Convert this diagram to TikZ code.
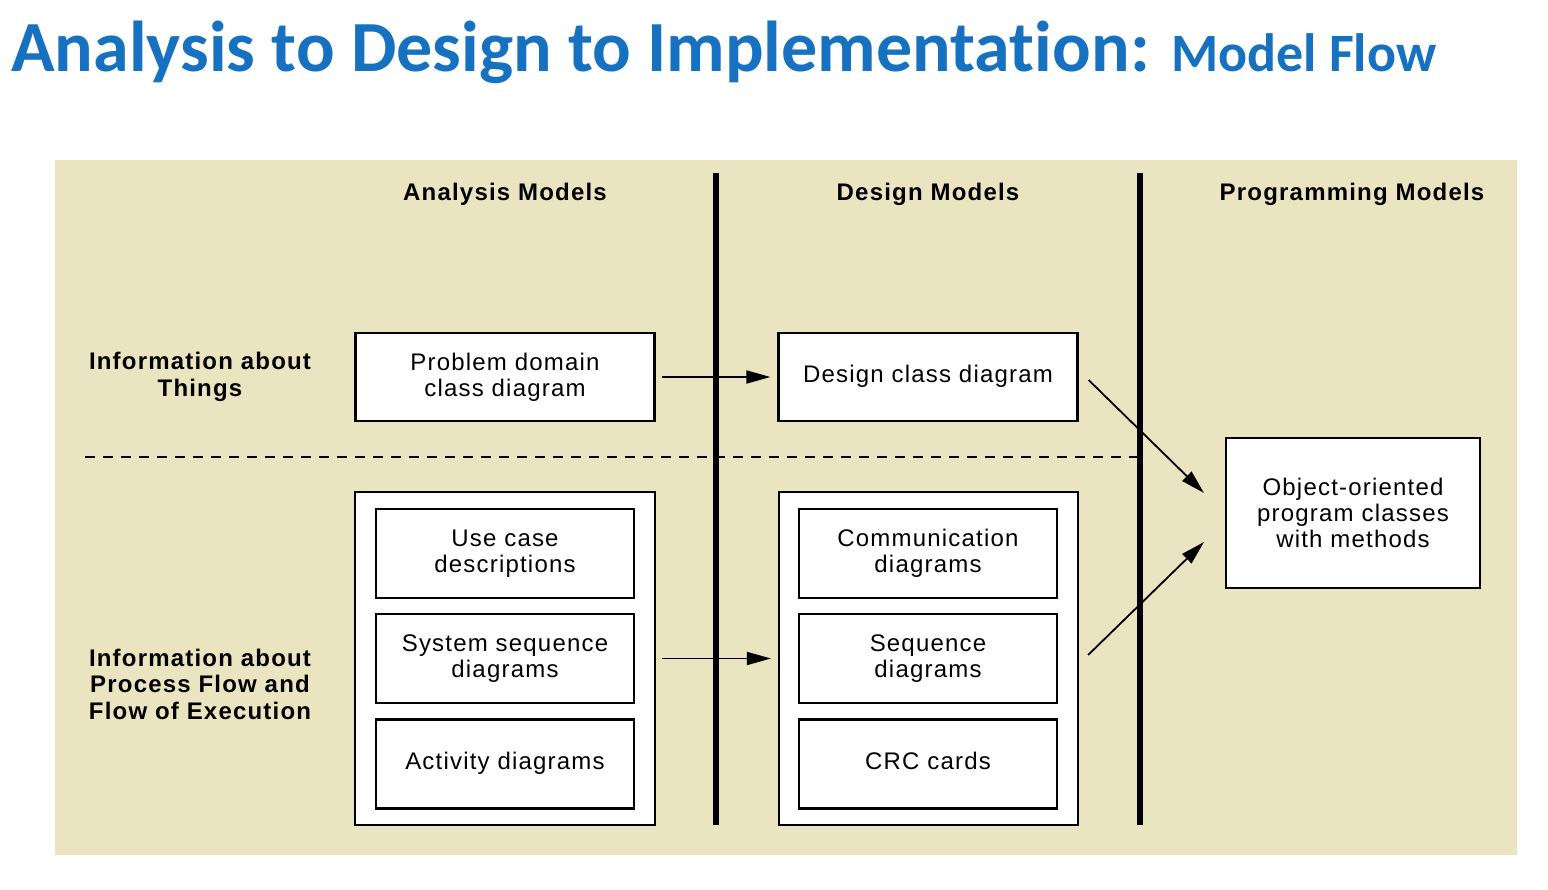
\documentclass[tikz,border=0pt]{standalone}
\usepackage{fontspec}
\setmainfont{Liberation Sans}[LetterSpace=5]
\newfontfamily\titlefont{Carlito}[Ligatures=NoCommon]
\usepackage{xcolor}
\usepackage{tikz}
\usetikzlibrary{positioning}
\usetikzlibrary{arrows.meta}
\definecolor{titleblue}{RGB}{22,114,192}
\definecolor{paper}{RGB}{234,229,192}

\begin{document}
\begin{tikzpicture}[x=1pt,y=-1pt,node distance=14pt,
    txt/.style={font=\fontsize{24}{26}\selectfont,align=center},
    head/.style={font=\bfseries\fontsize{24}{26.5}\selectfont,align=center},
    box/.style={txt,draw,line width=2.2pt,fill=white,inner sep=0pt,
      minimum width=299pt,minimum height=88pt},
    inbox/.style={box,minimum width=258pt,minimum height=89pt},
    arr/.style={line width=1.8pt,-{Triangle[length=24pt,width=13pt]}},
    divider/.style={line width=6pt},
    rowsep/.style={line width=1.8pt,dash pattern=on 10pt off 8pt}]
         \useasboundingbox[fill=white] (0,0) rectangle (1548,890);
         \fill[paper] (55,160) rectangle (1517,855);

         \node (title) [anchor=base west,inner sep=0pt,text=titleblue] at (11,72)
            {\titlefont\bfseries\fontsize{72}{80}\selectfont Analysis to Design to Implementation:
             \fontsize{54}{60}\selectfont Model Flow};

         \node (ahead) [head] at (505,194) {Analysis Models};
         \node (dhead) [head] at (928,194) {Design Models};
         \node (phead) [head] at (1352,194) {Programming Models};

         \node (things) [head] at (200,377) {Information about\\Things};
         \node (process) [head] at (200,684) {Information about\\Process Flow and\\Flow of Execution};

         \draw[rowsep] (85,457) -- (1138,457);
         \draw[divider] (716,173) -- (716,825);
         \draw[divider] (1140,173) -- (1140,825);

         \node (pdcd) [box] at (505,377) {Problem domain\\class diagram};
         \node (dcd)  [box] at (928,377) {\strut Design class diagram};

         \node (agroup) [box,minimum width=300pt,minimum height=333pt] at (505,658.5) {};
         \node (uc)  [inbox] at (505,553.5) {Use case\\descriptions};
         \node (ssd) [inbox,below=of uc] {System sequence\\diagrams};
         \node (act) [inbox,below=of ssd] {\strut Activity diagrams};

         \node (dgroup) [box,minimum width=299pt,minimum height=333pt] at (928.5,658.5) {};
         \node (comm) [inbox] at (928,553.5) {Communication\\diagrams};
         \node (seq)  [inbox,below=of comm] {Sequence\\diagrams};
         \node (crc)  [inbox,below=of seq] {\strut CRC cards};

         \node (oop) [box,minimum width=254pt,minimum height=150pt] at (1353,513)
            {Object-oriented\\program classes\\with methods};

         \coordinate (in1) at (1204,493);
         \coordinate (in2) at (1204,542);

         \draw[arr,shorten <=6pt,shorten >=7pt] (pdcd) -- (dcd);
         \draw[arr,shorten <=6pt,shorten >=7pt] (agroup) -- (dgroup);
         \draw[arr] ([shift={(10pt,-3pt)}]dcd.east) -- (in1);
         \draw[arr] ([shift={(9pt,3.5pt)}]dgroup.east) -- (in2);
      \end{tikzpicture}
\end{document}
